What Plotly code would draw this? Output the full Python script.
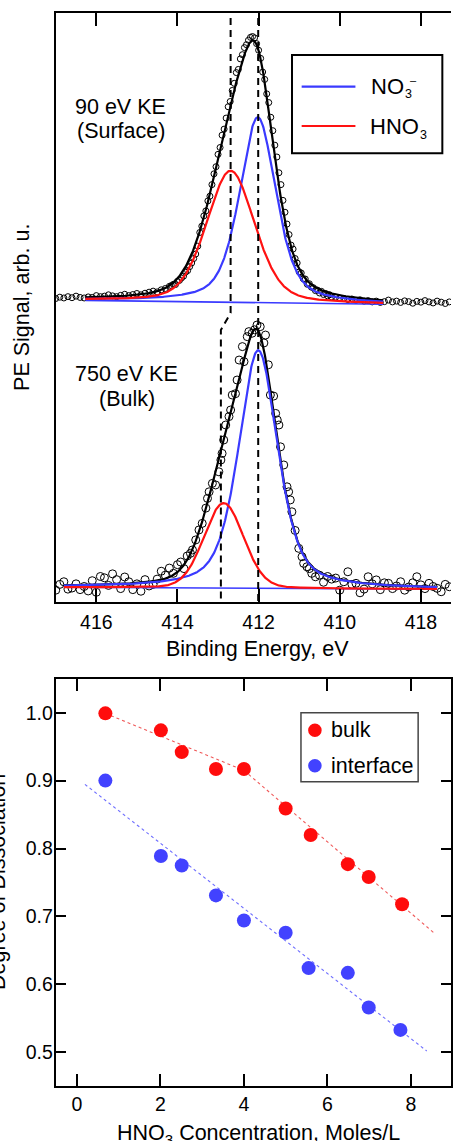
import numpy as np
import plotly.graph_objects as go

W, H = 453, 1141
FONT = "Liberation Sans, Arial, Helvetica, sans-serif"

# ---------------- N 1s photoemission spectra ----------------
# binding energy (eV) / normalised signal; the surface trace sits on an offset of ~1.1
surface_be = [
    417.0, 416.9, 416.8, 416.7, 416.6, 416.5, 416.4, 416.3, 416.2, 416.1,
    416.0, 415.9, 415.8, 415.7, 415.6, 415.5, 415.4, 415.3, 415.2, 415.1,
    415.0, 414.9, 414.8, 414.7, 414.6, 414.5, 414.4, 414.3,
    414.20, 414.15, 414.10, 414.05, 414.00, 413.95, 413.90, 413.85, 413.80, 413.75,
    413.70, 413.65, 413.60, 413.55, 413.50, 413.45, 413.40, 413.35, 413.30, 413.25,
    413.20, 413.15, 413.10, 413.05, 413.00, 412.95, 412.90, 412.85, 412.80, 412.75,
    412.70, 412.65, 412.60, 412.55, 412.50, 412.45, 412.40, 412.35, 412.30, 412.25,
    412.20, 412.15, 412.10, 412.05, 412.00, 411.95, 411.90, 411.85, 411.80, 411.75,
    411.70, 411.65, 411.60, 411.55, 411.50, 411.45, 411.40, 411.35, 411.30, 411.25,
    411.20, 411.15, 411.10, 411.05, 411.00, 410.95, 410.90, 410.85, 410.80, 410.75,
    410.70, 410.65, 410.60, 410.55, 410.50, 410.45, 410.40, 410.35, 410.30, 410.25,
    410.20,
    410.1, 410.0, 409.9, 409.8, 409.7, 409.6, 409.5, 409.4, 409.3, 409.2,
    409.1, 409.0, 408.9, 408.8, 408.7, 408.6, 408.5, 408.4, 408.3, 408.2,
    408.1, 408.0, 407.9, 407.8, 407.7, 407.6, 407.5, 407.4, 407.3,
]
surface_signal = [
    1.097, 1.102, 1.099, 1.104, 1.100, 1.106, 1.101, 1.099, 1.103, 1.101,
    1.108, 1.104, 1.106, 1.111, 1.107, 1.104, 1.109, 1.113, 1.108, 1.112,
    1.116, 1.111, 1.117, 1.121, 1.125, 1.122, 1.130, 1.135,
    1.143, 1.146, 1.151, 1.150, 1.162, 1.166, 1.175, 1.182, 1.197, 1.203,
    1.218, 1.232, 1.249, 1.266, 1.296, 1.348, 1.372, 1.411, 1.430, 1.468,
    1.486, 1.530, 1.571, 1.598, 1.645, 1.671, 1.718, 1.741, 1.783, 1.826,
    1.846, 1.888, 1.915, 1.956, 1.968, 2.008, 2.024, 2.051, 2.062, 2.079,
    2.090, 2.093, 2.088, 2.066, 2.041, 2.010, 1.958, 1.930, 1.875, 1.842,
    1.786, 1.735, 1.680, 1.635, 1.575, 1.530, 1.470, 1.425, 1.380, 1.340,
    1.300, 1.285, 1.249, 1.232, 1.198, 1.194, 1.172, 1.171, 1.151, 1.153,
    1.140, 1.138, 1.127, 1.129, 1.118, 1.124, 1.112, 1.116, 1.107, 1.111,
    1.103,
    1.102, 1.098, 1.097, 1.093, 1.095, 1.090, 1.092, 1.087, 1.089, 1.084,
    1.087, 1.082, 1.085, 1.091, 1.084, 1.087, 1.082, 1.088, 1.085, 1.079,
    1.086, 1.083, 1.089, 1.084, 1.080, 1.087, 1.083, 1.078, 1.084,
]

bulk_be = [
    417.0, 416.9, 416.8, 416.7, 416.6, 416.5, 416.4, 416.3, 416.2, 416.1,
    416.0, 415.9, 415.8, 415.7, 415.6, 415.5, 415.4, 415.3, 415.2, 415.1,
    415.0, 414.9, 414.8, 414.7, 414.6, 414.5, 414.4, 414.3, 414.2, 414.1,
    414.0,
    413.92, 413.84, 413.76, 413.68, 413.63, 413.55, 413.47, 413.39, 413.30, 413.26,
    413.22, 413.14, 413.06, 412.98, 412.93, 412.90, 412.86, 412.81, 412.73, 412.69,
    412.65, 412.57, 412.53, 412.48, 412.40, 412.36, 412.28, 412.24, 412.16, 412.10,
    412.04, 411.96, 411.87, 411.83, 411.76, 411.71, 411.63, 411.58, 411.54, 411.50,
    411.46, 411.38, 411.30, 411.26, 411.22, 411.18, 411.10, 411.01, 410.93, 410.89,
    410.81, 410.75, 410.69, 410.60, 410.50, 410.40,
    410.3, 410.2, 410.1, 410.0, 409.9, 409.8, 409.7, 409.6, 409.5, 409.4,
    409.3, 409.2, 409.1, 409.0, 408.9, 408.8, 408.7, 408.6, 408.5, 408.4,
    408.3, 408.2, 408.1, 408.0, 407.9, 407.8, 407.7, 407.6, 407.5, 407.4,
    407.3,
]
bulk_signal = [
    -0.012, 0.010, 0.020, -0.008, -0.004, 0.012, -0.010, 0.002, -0.015, 0.024,
    -0.020, 0.040, 0.035, 0.006, 0.050, 0.028, -0.006, 0.038, 0.020, -0.010,
    0.012, -0.016, 0.028, 0.004, 0.010, 0.030, 0.060, 0.045, 0.072, 0.052,
    0.085,
    0.095, 0.070, 0.118, 0.128, 0.141, 0.179, 0.217, 0.242, 0.300, 0.337,
    0.362, 0.394, 0.388, 0.438, 0.483, 0.508, 0.559, 0.616, 0.648, 0.673,
    0.730, 0.735, 0.787, 0.863, 0.914, 0.857, 0.952, 0.971, 0.965, 0.978,
    0.996, 0.990, 0.928, 0.958, 0.845, 0.730, 0.726, 0.660, 0.635, 0.616,
    0.533, 0.464, 0.381, 0.362, 0.331, 0.286, 0.215, 0.147, 0.115, 0.090,
    0.077, 0.070, 0.052, 0.039, 0.045, 0.018,
    0.040, 0.030, 0.034, -0.012, 0.020, 0.058, 0.010, 0.014, -0.022, -0.008,
    0.039, 0.012, 0.027, -0.010, 0.016, 0.014, -0.006, 0.004, 0.020, -0.012,
    0.000, 0.016, 0.039, 0.008, -0.006, 0.014, 0.002, -0.005, -0.018, 0.010,
    0.001,
]

# fit components, ordered [NO3-, HNO3]: centre (eV), FWHM (eV), height, Lorentzian fraction
surface_center = [412.02, 412.69]
surface_fwhm = [1.06, 1.40]
surface_height = [0.705, 0.50]
surface_lfrac = [0.5, 0.3]
surface_window = [416.27, 408.93]
surface_background = [1.090, 1.075]

bulk_center = [412.01, 412.86]
bulk_fwhm = [1.14, 1.15]
bulk_height = [0.905, 0.323]
bulk_lfrac = [0.5, 0.1]
bulk_window = [416.8, 407.6]
bulk_background = [-0.001, -0.008]

# dashed guides: NO3- position, HNO3 position (surface, bulk) and the
# signal levels where the HNO3 guide steps from one trace to the other
no3_guide = 412.01
hno3_guide = [412.69, 412.93]
hno3_guide_break = [1.042, 0.977]

be_tickvals = [416, 414, 412, 410, 408]
be_ticktext = ["416", "414", "412", "410", "418"]

# ---------------- degree of dissociation ----------------
conc_bulk = [0.68, 2.01, 2.51, 3.33, 4.00, 5.00, 5.60, 6.49, 6.99, 7.79]
alpha_bulk = [0.999, 0.974, 0.942, 0.917, 0.917, 0.859, 0.820, 0.777, 0.758, 0.718]
conc_interface = [0.68, 2.01, 2.51, 3.33, 4.00, 5.00, 5.55, 6.49, 6.99, 7.75]
alpha_interface = [0.900, 0.789, 0.775, 0.731, 0.694, 0.676, 0.624, 0.617, 0.566, 0.533]

trend_bulk_x = [0.68, 4.00, 8.55]
trend_bulk_y = [0.999, 0.915, 0.676]
trend_interface_x = [0.19, 8.38]
trend_interface_y = [0.8945, 0.502]

conc_tickvals = [0, 2, 4, 6, 8]
alpha_tickvals = [0.5, 0.6, 0.7, 0.8, 0.9, 1.0]

BLUE = "rgb(58,58,255)"
RED = "rgb(255,18,18)"
DOT_BLUE = "rgb(66,66,255)"
DOT_RED = "rgb(255,12,12)"


def pseudo_voigt(x, center, fwhm, lfrac):
    d = (x - center) / fwhm
    gauss = np.exp(-4.0 * np.log(2.0) * d ** 2)
    lorentz = 1.0 / (1.0 + 4.0 * d ** 2)
    return lfrac * lorentz + (1.0 - lfrac) * gauss


def fit_curves(center, fwhm, height, lfrac, window, background):
    x = np.linspace(window[0], window[1], 700)
    base = background[0] + (background[1] - background[0]) * (x - window[0]) / (window[1] - window[0])
    parts = [h * pseudo_voigt(x, c, w, e) for c, w, h, e in zip(center, fwhm, height, lfrac)]
    return x, base, [base + p for p in parts], base + sum(parts)


fig = go.Figure()

# spectra: data, envelope, linear background, components
for be, sig, size, pars in [
    (surface_be, surface_signal, 6,
     (surface_center, surface_fwhm, surface_height, surface_lfrac, surface_window, surface_background)),
    (bulk_be, bulk_signal, 8,
     (bulk_center, bulk_fwhm, bulk_height, bulk_lfrac, bulk_window, bulk_background)),
]:
    fig.add_trace(go.Scatter(
        x=be, y=sig, mode="markers", xaxis="x", yaxis="y", showlegend=False,
        marker=dict(symbol="circle-open", size=size, color="black", line=dict(width=1, color="black")),
    ))
    x, base, (no3, hno3), total = fit_curves(*pars)
    fig.add_trace(go.Scatter(x=x, y=total, mode="lines", xaxis="x", yaxis="y", showlegend=False,
                             line=dict(color="black", width=2.2)))
    fig.add_trace(go.Scatter(x=[x[0], x[-1]], y=[base[0], base[-1]], mode="lines", xaxis="x", yaxis="y",
                             showlegend=False, line=dict(color=BLUE, width=1.6)))
    fig.add_trace(go.Scatter(x=x, y=no3, mode="lines", xaxis="x", yaxis="y", showlegend=False,
                             line=dict(color=BLUE, width=2.2)))
    fig.add_trace(go.Scatter(x=x, y=hno3, mode="lines", xaxis="x", yaxis="y", showlegend=False,
                             line=dict(color=RED, width=2.2)))

# dashed peak-position guides
Y_TOP, Y_BOT = 2.3, -0.1
fig.add_trace(go.Scatter(
    x=[hno3_guide[0], hno3_guide[0], hno3_guide[1], hno3_guide[1]],
    y=[Y_TOP, hno3_guide_break[0], hno3_guide_break[1], Y_BOT],
    mode="lines", xaxis="x", yaxis="y", showlegend=False,
    line=dict(color="black", width=2, dash="7px,5px"),
))
fig.add_trace(go.Scatter(
    x=[no3_guide, no3_guide], y=[Y_TOP, Y_BOT],
    mode="lines", xaxis="x", yaxis="y", showlegend=False,
    line=dict(color="black", width=2, dash="7px,5px"),
))

# dissociation panel
fig.add_trace(go.Scatter(x=trend_bulk_x, y=trend_bulk_y, mode="lines", xaxis="x2", yaxis="y2",
                         showlegend=False, line=dict(color="rgb(240,90,90)", width=1.1, dash="dot")))
fig.add_trace(go.Scatter(x=trend_interface_x, y=trend_interface_y, mode="lines", xaxis="x2", yaxis="y2",
                         showlegend=False, line=dict(color="rgb(110,110,255)", width=1.1, dash="dot")))
fig.add_trace(go.Scatter(x=conc_bulk, y=alpha_bulk, mode="markers", xaxis="x2", yaxis="y2",
                         showlegend=False, marker=dict(size=14, color=DOT_RED)))
fig.add_trace(go.Scatter(x=conc_interface, y=alpha_interface, mode="markers", xaxis="x2", yaxis="y2",
                         showlegend=False, marker=dict(size=14, color=DOT_BLUE)))


def px(x):
    return x / W


def py(y):
    return 1.0 - y / H


def text(s, x, y, size=21.5, xanchor="center", angle=0):
    return dict(text=s, x=px(x), y=py(y), xref="paper", yref="paper", xanchor=xanchor,
                yanchor="middle", showarrow=False, textangle=angle,
                font=dict(family=FONT, size=size, color="black"))


axis_common = dict(showline=True, linewidth=2, linecolor="black", showgrid=False, zeroline=False,
                   tickcolor="black", tickwidth=2,
                   tickfont=dict(family=FONT, size=19.5, color="black"))

shapes = [
    # spectra legend
    dict(type="rect", xref="paper", yref="paper", x0=px(293.3), x1=px(444.3), y0=py(153.3), y1=py(55),
         line=dict(color="black", width=2), fillcolor="white", layer="above"),
    dict(type="line", xref="paper", yref="paper", x0=px(303), x1=px(357), y0=py(86.7), y1=py(86.7),
         line=dict(color=BLUE, width=2.2), layer="above"),
    dict(type="line", xref="paper", yref="paper", x0=px(303), x1=px(357), y0=py(126), y1=py(126),
         line=dict(color=RED, width=2.2), layer="above"),
    # dissociation legend
    dict(type="rect", xref="paper", yref="paper", x0=px(302.3), x1=px(420), y0=py(781.7), y1=py(712.7),
         line=dict(color="rgb(70,70,70)", width=1.5), fillcolor="white", layer="above"),
    dict(type="circle", xref="paper", yref="paper", x0=px(309.5), x1=px(323.1), y0=py(737.1), y1=py(723.5),
         line=dict(width=0), fillcolor=DOT_RED, layer="above"),
    dict(type="circle", xref="paper", yref="paper", x0=px(309.5), x1=px(323.1), y0=py(772.5), y1=py(758.9),
         line=dict(width=0), fillcolor=DOT_BLUE, layer="above"),
]

annotations = [
    text("NO", 371.0, 86.5, size=22, xanchor="left"),
    text("3", 410.0, 94.5, size=12.5),
    text("\u2013", 415.0, 79.5, size=11),
    text("HNO", 370.0, 126.5, size=22, xanchor="left"),
    text("3", 425.5, 134.5, size=12.5),
    text("bulk", 330.5, 730.3, size=21.5, xanchor="left"),
    text("interface", 330.5, 765.7, size=21.5, xanchor="left"),
    text("90 eV KE", 120.8, 106.5),
    text("(Surface)", 121.5, 131.2),
    text("750 eV KE", 127.2, 374.2),
    text("(Bulk)", 127.5, 398.5),
    text("PE Signal, arb. u.", 22, 307, angle=-90),
    text("Binding Energy, eV", 259, 649),
    text("Degree of Dissociation", -2, 882, angle=-90),
    text("HNO<sub>3</sub> Concentration, Moles/L", 259.5, 1134),
]

fig.update_layout(
    width=W, height=H, autosize=False,
    margin=dict(l=0, r=0, t=0, b=0, pad=0),
    paper_bgcolor="white", plot_bgcolor="rgba(0,0,0,0)",
    showlegend=False,
    xaxis=dict(domain=[56 / W, 1.0], anchor="y", range=[417.0, 407.258],
               tickmode="array", tickvals=be_tickvals, ticktext=be_ticktext,
               ticks="inside", ticklen=13, mirror="ticks", ticklabelstandoff=2, **axis_common),
    yaxis=dict(domain=[1 - 602 / H, 1 - 13 / H], anchor="x", range=[-0.057, 2.1825],
               showticklabels=False, ticks="", **axis_common),
    xaxis2=dict(domain=[56 / W, 1.0], anchor="y2", range=[-0.509, 8.962],
                tickmode="array", tickvals=conc_tickvals,
                ticks="inside", ticklen=12, mirror="ticks", **axis_common),
    yaxis2=dict(domain=[1 - 1086 / H, 1 - 679 / H], anchor="x2", range=[0.4504, 1.0496],
                tickmode="array", tickvals=alpha_tickvals, tickformat=".1f",
                ticks="inside", ticklen=10, mirror="ticks", ticklabelstandoff=-3, **axis_common),
    shapes=shapes,
    annotations=annotations,
)

fig.write_html("out.html", config={"displayModeBar": False})
